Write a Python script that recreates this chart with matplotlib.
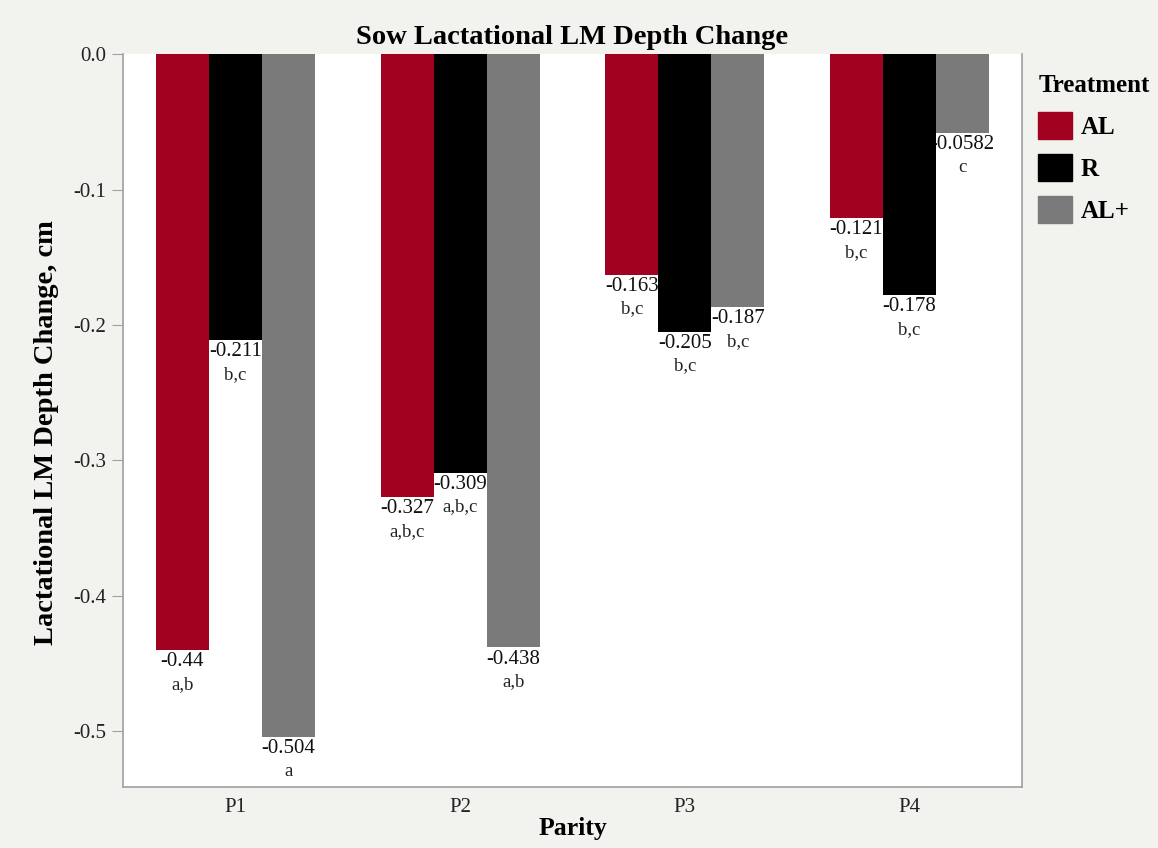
"""
Sow lactational LM depth change by parity and treatment.
Grouped bar chart with value and significance letters under each bar.
"""

import matplotlib
matplotlib.use("Agg")
import matplotlib.pyplot as plt
from matplotlib.patches import Patch
import numpy as np


# ---------------------------------------------------------------------------
# Data
# ---------------------------------------------------------------------------
parities = ["P1", "P2", "P3", "P4"]
treatments = ["AL", "R", "AL+"]

al_change = [-0.44, -0.327, -0.163, -0.121]
r_change = [-0.211, -0.309, -0.205, -0.178]
alplus_change = [-0.504, -0.438, -0.187, -0.0582]

al_labels = ["-0.44", "-0.327", "-0.163", "-0.121"]
r_labels = ["-0.211", "-0.309", "-0.205", "-0.178"]
alplus_labels = ["-0.504", "-0.438", "-0.187", "-0.0582"]

al_letters = ["a,b", "a,b,c", "b,c", "b,c"]
r_letters = ["b,c", "a,b,c", "b,c", "b,c"]
alplus_letters = ["a", "a,b", "b,c", "c"]

y_ticks = [0.0, -0.1, -0.2, -0.3, -0.4, -0.5]

# ---------------------------------------------------------------------------
# Style
# ---------------------------------------------------------------------------
COLORS = ["#A10220", "#000000", "#7A7A7A"]
BG = "#F2F2EE"
SPINE = "#A0A0A0"
plt.rcParams["font.family"] = ["Liberation Serif", "DejaVu Serif"]

values = [al_change, r_change, alplus_change]
labels = [al_labels, r_labels, alplus_labels]
letters = [al_letters, r_letters, alplus_letters]

fig = plt.figure(figsize=(11.58, 8.48), dpi=100, facecolor=BG)
ax = fig.add_axes([0.1062, 0.0719, 0.7763, 0.8644])
ax.set_facecolor("white")

x = np.arange(len(parities))
width = 0.236

for i, name in enumerate(treatments):
    pos = x + (i - 1) * width
    ax.bar(pos, values[i], width=width, color=COLORS[i], zorder=3)
    # value and significance letters sit under the bar end, behind the bars
    for xp, v, lab, let in zip(pos, values[i], labels[i], letters[i]):
        ax.annotate(lab, (xp, v), xytext=(0, -1.5), textcoords="offset points",
                    ha="center", va="top", fontsize=15, color="#111111",
                    zorder=2)
        ax.annotate(let, (xp, v), xytext=(0, -18.5), textcoords="offset points",
                    ha="center", va="top", fontsize=13.5, color="#222222",
                    zorder=2)

ax.set_xlim(-0.5, 3.5)
ax.set_ylim(-0.541, 0.0)
ax.set_xticks(x)
ax.set_xticklabels(parities)
ax.set_yticks(y_ticks)
ax.set_yticklabels([f"{t:.1f}" if t != 0 else "0.0" for t in y_ticks])
ax.tick_params(axis="y", length=8, color=SPINE, labelsize=15,
               labelcolor="#222222", pad=4)
ax.tick_params(axis="x", length=0, labelsize=15, labelcolor="#222222", pad=8)

for side in ["left", "bottom", "right", "top"]:
    ax.spines[side].set_color(SPINE)
    ax.spines[side].set_linewidth(1.2)
ax.spines["top"].set_visible(False)

ax.set_title("Sow Lactational LM Depth Change", fontsize=20.5,
             fontweight="bold", pad=7)
ax.set_xlabel("Parity", fontsize=18.5, fontweight="bold", labelpad=0)
ax.set_ylabel("Lactational LM Depth Change, cm", fontsize=20.5,
              fontweight="bold")
ax.yaxis.set_label_coords(-0.071, 0.484)

handles = [Patch(facecolor=c, edgecolor=c) for c in COLORS]
leg = fig.legend(handles, treatments, title="Treatment",
                 loc="upper left", bbox_to_anchor=(0.888, 0.925),
                 frameon=False, handlelength=1.35, handleheight=1.3,
                 handletextpad=0.35, labelspacing=0.6, alignment="left",
                 borderaxespad=0.0,
                 prop={"size": 18, "weight": "bold"},
                 title_fontproperties={"size": 18, "weight": "bold"})

fig.savefig("out.png", dpi=100, facecolor=BG)
